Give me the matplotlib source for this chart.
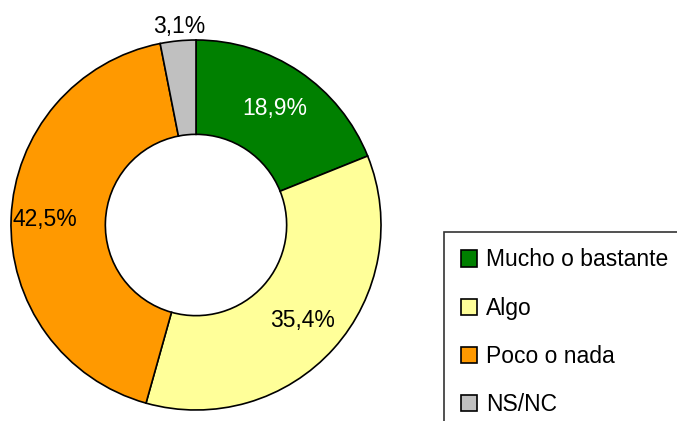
import matplotlib
matplotlib.use("Agg")
import matplotlib.pyplot as plt
import numpy as np

plt.rcParams['font.family'] = ['Liberation Sans', 'DejaVu Sans']

categories = ['Mucho o bastante', 'Algo', 'Poco o nada', 'NS/NC']
values = [18.9, 35.4, 42.5, 3.1]
labels = ['18,9%', '35,4%', '42,5%', '3,1%']
colors = ['#008000', '#FFFF99', '#FF9900', '#C0C0C0']
label_colors = ['white', 'black', 'black', 'black']
label_radius = [0.76, 0.77, 0.82, 1.08]

W, H = 677, 421
fig = plt.figure(figsize=(W / 100, H / 100), dpi=100)
ax = fig.add_axes([0, 0, 1, 1])

cx, cy, R = 196, 196, 185
wedges, _ = ax.pie(values, colors=colors, startangle=90, counterclock=False,
                   center=(cx, cy), radius=R,
                   wedgeprops=dict(width=R * 0.51, edgecolor='black', linewidth=1.2))

# percentage labels at the middle of each slice
total = sum(values)
start = 90.0
for i, v in enumerate(values):
    mid = start - v / total * 360 / 2
    start -= v / total * 360
    r = R * label_radius[i]
    x = cx + r * np.cos(np.radians(mid))
    y = cy + r * np.sin(np.radians(mid))
    ax.text(x + (3 if i == 3 else 0), y, labels[i], ha='center', va='center',
            fontsize=16.5, color=label_colors[i])

ax.set_xlim(0, W)
ax.set_ylim(0, H)
ax.set_aspect('equal')
ax.axis('off')

leg = fig.legend(wedges, categories, loc='upper left',
                 bbox_to_anchor=(444 / W, 1 - 232 / H), borderaxespad=0,
                 fontsize=16.5, frameon=True, fancybox=False, edgecolor='black',
                 handlelength=0.7, handleheight=0.7, handletextpad=0.4,
                 labelspacing=1.1, borderpad=0.72)
leg.get_frame().set_linewidth(1.2)

fig.savefig('out.png', dpi=100)
